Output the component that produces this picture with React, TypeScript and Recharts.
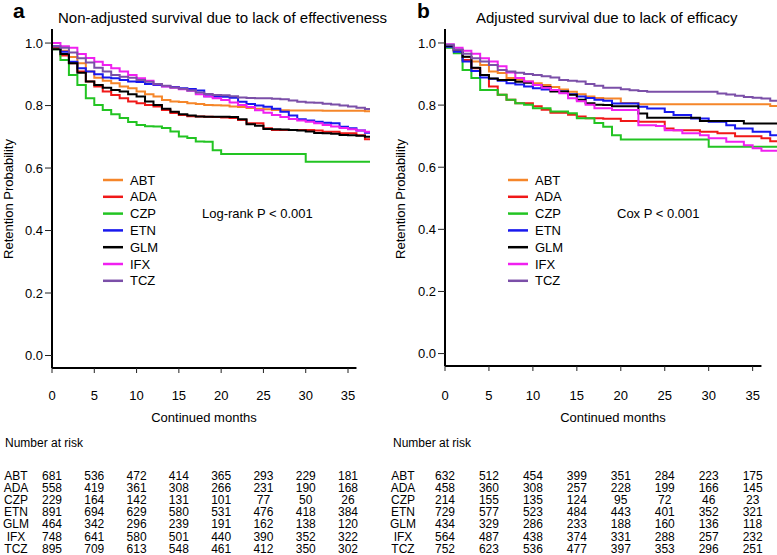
import { LineChart, Line, XAxis, YAxis, ReferenceLine } from 'recharts';

const drugs = ['ABT', 'ADA', 'CZP', 'ETN', 'GLM', 'IFX', 'TCZ'];
const colors = ['#F5862A', '#F01818', '#22C422', '#1818EE', '#000000', '#F020F0', '#7B4FA8'];
const months = [0, 1, 2, 3, 4, 5, 6, 7, 8, 9, 10, 11, 12, 13, 14, 15, 16, 17, 18, 19, 20, 21, 22, 23, 24, 25, 26, 27, 28, 29, 30, 31, 32, 33, 34, 35, 36, 37];
const xTicks = [0, 5, 10, 15, 20, 25, 30, 35];
const yTicks = [0, 0.2, 0.4, 0.6, 0.8, 1.0];

// panel a: non-adjusted survival
const abtA = [0.985, 0.975, 0.955, 0.935, 0.909, 0.889, 0.879, 0.871, 0.861, 0.855, 0.845, 0.836, 0.829, 0.818, 0.813, 0.811, 0.807, 0.805, 0.802, 0.801, 0.8, 0.797, 0.795, 0.792, 0.79, 0.788, 0.786, 0.785, 0.784, 0.784, 0.784, 0.784, 0.783, 0.783, 0.783, 0.783, 0.783, 0.782];
const adaA = [0.985, 0.96, 0.935, 0.909, 0.877, 0.861, 0.845, 0.834, 0.823, 0.813, 0.807, 0.802, 0.797, 0.786, 0.776, 0.77, 0.766, 0.765, 0.764, 0.763, 0.762, 0.76, 0.754, 0.743, 0.743, 0.727, 0.722, 0.722, 0.722, 0.722, 0.722, 0.72, 0.716, 0.716, 0.711, 0.711, 0.705, 0.692];
const czpA = [0.98, 0.946, 0.898, 0.866, 0.823, 0.802, 0.786, 0.772, 0.76, 0.747, 0.738, 0.734, 0.733, 0.728, 0.717, 0.701, 0.696, 0.685, 0.684, 0.657, 0.645, 0.645, 0.645, 0.645, 0.645, 0.645, 0.645, 0.645, 0.645, 0.645, 0.62, 0.62, 0.62, 0.62, 0.62, 0.62, 0.62, 0.62];
const etnA = [0.99, 0.972, 0.94, 0.919, 0.909, 0.9, 0.89, 0.887, 0.882, 0.877, 0.875, 0.869, 0.866, 0.862, 0.859, 0.855, 0.853, 0.848, 0.83, 0.828, 0.828, 0.825, 0.812, 0.805, 0.8, 0.796, 0.79, 0.78, 0.768, 0.756, 0.752, 0.748, 0.745, 0.743, 0.732, 0.727, 0.72, 0.713];
const glmA = [0.98, 0.965, 0.935, 0.905, 0.877, 0.866, 0.857, 0.85, 0.845, 0.836, 0.829, 0.813, 0.802, 0.79, 0.78, 0.772, 0.768, 0.765, 0.764, 0.764, 0.764, 0.763, 0.756, 0.74, 0.735, 0.725, 0.724, 0.723, 0.722, 0.72, 0.717, 0.712, 0.711, 0.71, 0.706, 0.705, 0.703, 0.7];
const ifxA = [1.0, 0.99, 0.985, 0.965, 0.952, 0.94, 0.93, 0.919, 0.909, 0.898, 0.887, 0.879, 0.868, 0.861, 0.857, 0.852, 0.847, 0.836, 0.829, 0.823, 0.818, 0.81, 0.802, 0.795, 0.785, 0.777, 0.77, 0.763, 0.757, 0.752, 0.748, 0.743, 0.738, 0.733, 0.728, 0.724, 0.72, 0.716];
const tczA = [0.99, 0.985, 0.97, 0.951, 0.938, 0.921, 0.909, 0.898, 0.892, 0.889, 0.882, 0.876, 0.869, 0.863, 0.858, 0.854, 0.848, 0.842, 0.837, 0.834, 0.833, 0.83, 0.826, 0.824, 0.823, 0.823, 0.822, 0.82, 0.816, 0.812, 0.81, 0.809, 0.806, 0.803, 0.8, 0.797, 0.793, 0.789];

// panel b: adjusted survival
const abtB = [0.99, 0.975, 0.955, 0.94, 0.929, 0.908, 0.903, 0.887, 0.882, 0.876, 0.87, 0.865, 0.858, 0.85, 0.843, 0.835, 0.828, 0.823, 0.821, 0.821, 0.807, 0.807, 0.803, 0.803, 0.803, 0.803, 0.803, 0.803, 0.803, 0.803, 0.803, 0.803, 0.803, 0.803, 0.803, 0.803, 0.803, 0.797];
const adaB = [0.988, 0.975, 0.945, 0.919, 0.897, 0.86, 0.833, 0.817, 0.806, 0.806, 0.796, 0.785, 0.775, 0.775, 0.769, 0.763, 0.758, 0.758, 0.756, 0.756, 0.749, 0.749, 0.746, 0.746, 0.746, 0.725, 0.719, 0.719, 0.719, 0.714, 0.714, 0.709, 0.709, 0.7, 0.7, 0.7, 0.693, 0.684];
const czpB = [0.985, 0.967, 0.913, 0.887, 0.849, 0.849, 0.833, 0.817, 0.806, 0.801, 0.79, 0.79, 0.779, 0.779, 0.774, 0.758, 0.758, 0.742, 0.73, 0.703, 0.689, 0.689, 0.689, 0.689, 0.689, 0.689, 0.689, 0.689, 0.689, 0.689, 0.666, 0.666, 0.666, 0.666, 0.666, 0.666, 0.666, 0.666];
const etnB = [0.988, 0.972, 0.94, 0.91, 0.889, 0.885, 0.878, 0.87, 0.866, 0.86, 0.854, 0.85, 0.846, 0.844, 0.835, 0.828, 0.823, 0.817, 0.814, 0.805, 0.805, 0.805, 0.795, 0.789, 0.789, 0.778, 0.768, 0.768, 0.757, 0.757, 0.746, 0.746, 0.735, 0.725, 0.725, 0.714, 0.714, 0.703];
const glmB = [0.991, 0.978, 0.956, 0.92, 0.897, 0.886, 0.881, 0.881, 0.875, 0.872, 0.865, 0.858, 0.844, 0.844, 0.833, 0.817, 0.806, 0.801, 0.8, 0.796, 0.796, 0.796, 0.773, 0.759, 0.759, 0.759, 0.759, 0.759, 0.759, 0.749, 0.749, 0.749, 0.749, 0.749, 0.741, 0.741, 0.741, 0.741];
const ifxB = [0.996, 0.985, 0.975, 0.965, 0.951, 0.94, 0.925, 0.905, 0.887, 0.876, 0.865, 0.856, 0.849, 0.838, 0.822, 0.812, 0.801, 0.79, 0.79, 0.784, 0.784, 0.784, 0.735, 0.735, 0.733, 0.719, 0.719, 0.709, 0.709, 0.703, 0.693, 0.693, 0.682, 0.682, 0.671, 0.661, 0.653, 0.653];
const tczB = [0.994, 0.978, 0.965, 0.951, 0.94, 0.929, 0.913, 0.908, 0.904, 0.9, 0.897, 0.893, 0.889, 0.881, 0.878, 0.876, 0.868, 0.862, 0.856, 0.856, 0.851, 0.848, 0.845, 0.843, 0.843, 0.843, 0.843, 0.843, 0.843, 0.843, 0.843, 0.837, 0.834, 0.83, 0.826, 0.824, 0.821, 0.814];

// number at risk, panel a
const abtRiskA = [681, 536, 472, 414, 365, 293, 229, 181];
const adaRiskA = [558, 419, 361, 308, 266, 231, 190, 168];
const czpRiskA = [229, 164, 142, 131, 101, 77, 50, 26];
const etnRiskA = [891, 694, 629, 580, 531, 476, 418, 384];
const glmRiskA = [464, 342, 296, 239, 191, 162, 138, 120];
const ifxRiskA = [748, 641, 580, 501, 440, 390, 352, 322];
const tczRiskA = [895, 709, 613, 548, 461, 412, 350, 302];

// number at risk, panel b
const abtRiskB = [632, 512, 454, 399, 351, 284, 223, 175];
const adaRiskB = [458, 360, 308, 257, 228, 199, 166, 145];
const czpRiskB = [214, 155, 135, 124, 95, 72, 46, 23];
const etnRiskB = [729, 577, 523, 484, 443, 401, 352, 321];
const glmRiskB = [434, 329, 286, 233, 188, 160, 136, 118];
const ifxRiskB = [564, 487, 438, 374, 331, 288, 257, 232];
const tczRiskB = [752, 623, 536, 477, 397, 353, 296, 251];

const FONT = '"Liberation Sans", Arial, Helvetica, sans-serif';
const CH = 420;
const TOP = 29;
const Y_MIN = -0.04;
const Y_MAX = 1.045;

type PanelCfg = {
  left: number;
  width: number;
  axisW: number;
  plotW: number;
  plotH: number;
  xMax: number;
  tickMargin: number;
  series: number[][];
  risk: number[][];
};

function buildRows(series: number[][], xMax: number) {
  const rows = months.map((t, i) => {
    const r: Record<string, number> = { t };
    drugs.forEach((d, k) => (r[d] = series[k][i]));
    return r;
  });
  const last: Record<string, number> = { t: xMax };
  drugs.forEach((d, k) => (last[d] = series[k][series[k].length - 1]));
  rows.push(last);
  return rows;
}

function Panel({ cfg }: { cfg: PanelCfg }) {
  const rows = buildRows(cfg.series, cfg.xMax);
  return (
    <div style={{ position: 'absolute', left: cfg.left, top: 0 }}>
      <LineChart
        width={cfg.width}
        height={CH}
        data={rows}
        margin={{ top: TOP, right: cfg.width - cfg.axisW - cfg.plotW, left: 0, bottom: 0 }}
        style={{ fontFamily: FONT }}
      >
        <XAxis
          type="number"
          dataKey="t"
          domain={[0, cfg.xMax]}
          ticks={xTicks}
          height={CH - TOP - cfg.plotH}
          axisLine={false}
          tickLine={{ stroke: '#222' }}
          tickSize={5}
          tickMargin={cfg.tickMargin}
          tick={{ fill: '#000', fontSize: 13 }}
        />
        <YAxis
          type="number"
          domain={[Y_MIN, Y_MAX]}
          ticks={yTicks}
          width={cfg.axisW}
          tickFormatter={(v: number) => v.toFixed(1)}
          axisLine={{ stroke: '#000', strokeWidth: 2 }}
          tickLine={{ stroke: '#222' }}
          tickSize={7}
          tickMargin={2}
          tick={{ fill: '#000', fontSize: 13 }}
        />
        <ReferenceLine
          segment={[{ x: 0, y: Y_MIN }, { x: 36, y: Y_MIN }]}
          stroke="#000"
          strokeWidth={2}
        />
        {drugs.map((d, k) => (
          <Line
            key={d}
            type="stepAfter"
            dataKey={d}
            stroke={colors[k]}
            strokeWidth={2}
            dot={false}
            isAnimationActive={false}
          />
        ))}
      </LineChart>
    </div>
  );
}

type TextCfg = {
  plotLeft: number;
  pxPerMonth: number;
  letter: string;
  letterX: number;
  title: string;
  titleX: number;
  ylabX: number;
  xlabX: number;
  legX: number;
  pText: string;
  pX: number;
  nX: number;
  labX: number;
  risk: number[][];
};

function Annotations({ c }: { c: TextCfg }) {
  const rowY = (i: number) => 480 + i * 12.1;
  return (
    <g>
      <text x={c.letterX} y={18} fontSize={21} fontWeight="bold">{c.letter}</text>
      <text x={c.titleX} y={23} fontSize={15}>{c.title}</text>
      <text
        x={c.ylabX}
        y={199}
        fontSize={13}
        textAnchor="middle"
        transform={`rotate(-90 ${c.ylabX} 199)`}
      >
        Retention Probability
      </text>
      <text x={c.xlabX} y={422} fontSize={13} textAnchor="middle">Continued months</text>
      {drugs.map((d, k) => (
        <g key={d}>
          <line x1={c.legX} x2={c.legX + 20} y1={180 + k * 16.8} y2={180 + k * 16.8} stroke={colors[k]} strokeWidth={2.5} />
          <text x={c.legX + 27} y={184.5 + k * 16.8} fontSize={13}>{d}</text>
        </g>
      ))}
      <text x={c.pX} y={217.5} fontSize={13}>{c.pText}</text>
      <text x={c.nX} y={447} fontSize={12}>Number at risk</text>
      {drugs.map((d, k) => (
        <g key={d}>
          <text x={c.labX} y={rowY(k)} fontSize={12} textAnchor="middle">{d}</text>
          {c.risk[k].map((n, j) => (
            <text key={j} x={c.plotLeft + xTicks[j] * c.pxPerMonth} y={rowY(k)} fontSize={12} textAnchor="middle">
              {n}
            </text>
          ))}
        </g>
      ))}
    </g>
  );
}

const cfgA: PanelCfg = {
  left: 0, width: 390, axisW: 52, plotW: 318, plotH: 339, xMax: 37.6, tickMargin: 18,
  series: [abtA, adaA, czpA, etnA, glmA, ifxA, tczA],
  risk: [abtRiskA, adaRiskA, czpRiskA, etnRiskA, glmRiskA, ifxRiskA, tczRiskA],
};
const cfgB: PanelCfg = {
  left: 390, width: 387, axisW: 55, plotW: 332, plotH: 337, xMax: 37.77, tickMargin: 20,
  series: [abtB, adaB, czpB, etnB, glmB, ifxB, tczB],
  risk: [abtRiskB, adaRiskB, czpRiskB, etnRiskB, glmRiskB, ifxRiskB, tczRiskB],
};

export default function App() {
  return (
    <div style={{ position: 'absolute', left: 0, top: 0, width: 777, height: 555, background: '#fff', overflow: 'hidden' }}>
      <Panel cfg={cfgA} />
      <Panel cfg={cfgB} />
      <svg
        width={777}
        height={555}
        style={{ position: 'absolute', left: 0, top: 0, pointerEvents: 'none', fontFamily: FONT }}
      >
        <Annotations
          c={{
            plotLeft: 52, pxPerMonth: 318 / 37.6, letter: 'a', letterX: 13,
            title: 'Non-adjusted survival due to lack of effectiveness', titleX: 58,
            ylabX: 13, xlabX: 204, legX: 103, pText: 'Log-rank P < 0.001', pX: 202,
            nX: 5, labX: 16, risk: cfgA.risk,
          }}
        />
        <Annotations
          c={{
            plotLeft: 445, pxPerMonth: 332 / 37.77, letter: 'b', letterX: 417,
            title: 'Adjusted survival due to lack of efficacy', titleX: 476,
            ylabX: 405, xlabX: 613, legX: 508, pText: 'Cox P < 0.001', pX: 617,
            nX: 393, labX: 403, risk: cfgB.risk,
          }}
        />
      </svg>
    </div>
  );
}
